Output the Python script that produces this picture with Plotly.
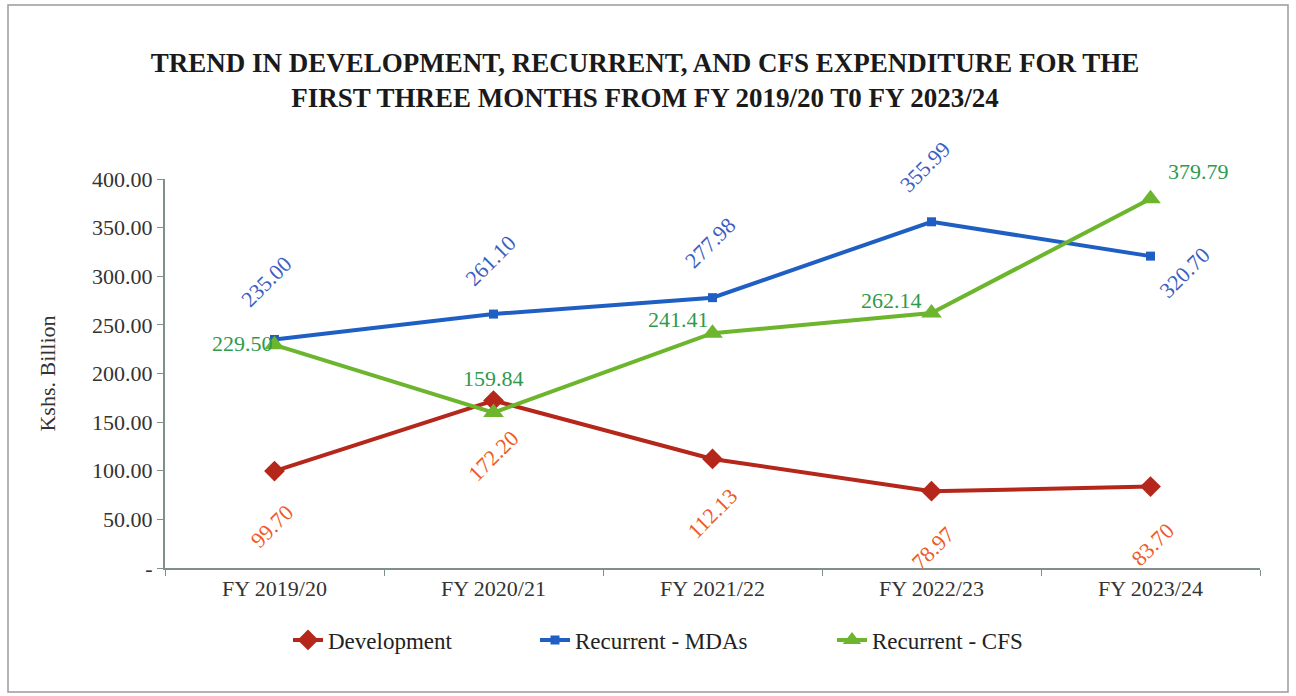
import plotly.graph_objects as go

categories = ["FY 2019/20", "FY 2020/21", "FY 2021/22", "FY 2022/23", "FY 2023/24"]
development = [99.70, 172.20, 112.13, 78.97, 83.70]
recurrent_mdas = [235.00, 261.10, 277.98, 355.99, 320.70]
recurrent_cfs = [229.50, 159.84, 241.41, 262.14, 379.79]
y_ticks = [0, 50, 100, 150, 200, 250, 300, 350, 400]

FONT = "Liberation Serif, DejaVu Serif, serif"

fig = go.Figure()
fig.add_trace(go.Scatter(x=categories, y=development, name="Development", mode="lines+markers",
                         legend="legend",
                         line=dict(color="#B5261B", width=4),
                         marker=dict(symbol="diamond", size=16, color="#B5261B")))
fig.add_trace(go.Scatter(x=categories, y=recurrent_mdas, name="Recurrent - MDAs", mode="lines+markers",
                         legend="legend2",
                         line=dict(color="#1F5FC4", width=4),
                         marker=dict(symbol="square", size=9, color="#1F5FC4")))
fig.add_trace(go.Scatter(x=categories, y=recurrent_cfs, name="Recurrent - CFS", mode="lines+markers",
                         legend="legend3",
                         line=dict(color="#6CB52D", width=4),
                         marker=dict(symbol="triangle-up", size=18, color="#6CB52D")))

# label styling (pixel offsets, angles)
dev_shift = [(-3, -55), (0, -55), (0, -55), (1, -57), (2, -58)]
mdas_shift = [(-8, 58), (-3, 54), (-2, 55), (-6, 55), (34, -16)]
cfs_shift = [(-32, 1), (0, 34), (-34, 14), (-40, 13), (48, 27)]

annotations = []
for vals, shifts, col, ang in [(development, dev_shift, "#EE5A28", -45),
                               (recurrent_mdas, mdas_shift, "#3A5EC2", -45),
                               (recurrent_cfs, cfs_shift, "#2E9A4C", 0)]:
    for c, v, (dx, dy) in zip(categories, vals, shifts):
        annotations.append(dict(x=c, y=v, xref="x", yref="y", text=f"{v:.2f}", showarrow=False,
                                textangle=ang, xshift=dx, yshift=dy,
                                font=dict(family=FONT, size=22, color=col)))


def legend_at(px):
    return dict(orientation="h", x=px / 1296, xref="container", xanchor="left",
                y=(696 - 640) / 696, yref="container", yanchor="middle",
                font=dict(family=FONT, size=23, color="#222222"), bgcolor="rgba(0,0,0,0)")


fig.update_layout(
    width=1296, height=696,
    margin=dict(l=165, r=36, t=179, b=128),
    paper_bgcolor="white", plot_bgcolor="white",
    title=dict(text="<b>TREND IN DEVELOPMENT, RECURRENT, AND CFS EXPENDITURE FOR THE<br>FIRST THREE MONTHS FROM FY 2019/20 T0 FY 2023/24</b>",
               x=645 / 1296, xanchor="center", xref="container", y=1 - 72 / 696, yref="container",
               yanchor="middle", font=dict(family=FONT, size=27, color="#1a1a1a")),
    font=dict(family=FONT, size=22, color="#333333"),
    showlegend=True,
    legend=legend_at(288),
    legend2=legend_at(535),
    legend3=legend_at(832),
    annotations=annotations,
    shapes=[dict(type="rect", xref="paper", yref="paper", x0=(8 - 165) / 1095, x1=(1288 - 165) / 1095,
                 y0=(568 - 692) / 389, y1=(568 - 5) / 389, line=dict(color="#9a9a9a", width=1.5))],
)
fig.update_xaxes(range=[-0.5, 4.5], showline=True, linecolor="#7f8f8a", linewidth=2, ticks="outside",
                 tickson="boundaries", ticklen=6, tickcolor="#7f8f8a", showgrid=False,
                 tickfont=dict(size=22, color="#333333"))
fig.update_yaxes(range=[0, 400], tickvals=y_ticks,
                 ticktext=["-" if t == 0 else f"{t:.2f}" for t in y_ticks],
                 showline=True, linecolor="#7f8f8a", linewidth=2, ticks="outside", ticklen=6,
                 tickcolor="#7f8f8a", showgrid=False, zeroline=False,
                 title=dict(text="Kshs. Billion", font=dict(size=22, color="#333333"), standoff=30),
                 tickfont=dict(size=22, color="#333333"))

fig.write_html("out.html", post_script="document.body.style.margin='0';",
               config={"displayModeBar": False})
